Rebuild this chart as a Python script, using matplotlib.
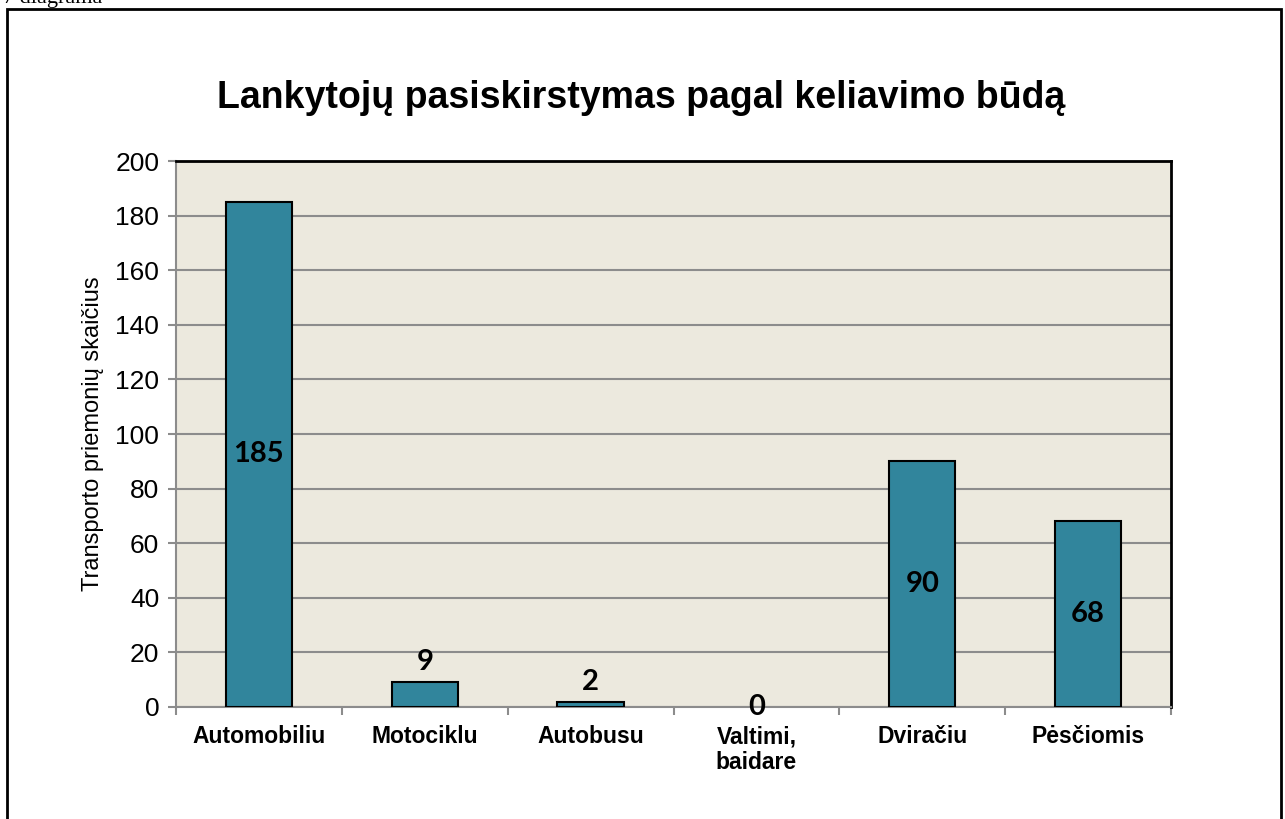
import matplotlib.pyplot as plt
from matplotlib.patches import Rectangle

# Data
categories = ['Automobiliu', 'Motociklu', 'Autobusu', 'Valtimi,\nbaidare', 'Dviračiu', 'Pėsčiomis']
values = [185, 9, 2, 0, 90, 68]
yticks = [0, 20, 40, 60, 80, 100, 120, 140, 160, 180, 200]

bar_color = '#31859C'
bg_color = '#ECE9DE'
grid_color = '#8C8C8C'

plt.rcParams['font.family'] = ['Liberation Sans', 'DejaVu Sans']

fig = plt.figure(figsize=(12.85, 8.19), dpi=100)
ax = fig.add_axes([176/1285, 1-707/819, 995/1285, 546/819])
ax.set_facecolor(bg_color)

x = list(range(len(categories)))
edge_w = [1.5 if v > 0 else 0 for v in values]
ax.bar(x, values, width=0.4, color=bar_color, edgecolor='black', linewidth=edge_w, zorder=3)

ax.set_xlim(-0.5, len(categories) - 0.5)
ax.set_ylim(0, 200)
ax.set_yticks(yticks)
ax.set_yticklabels([str(t) for t in yticks], fontsize=19)
ax.yaxis.grid(True, color=grid_color, linewidth=1.5, zorder=0)
ax.set_axisbelow(True)

# x ticks at category boundaries, labels at centres
ax.set_xticks([i - 0.5 for i in range(len(categories) + 1)])
ax.set_xticklabels([])
ax.set_xticks(x, minor=True)
ax.set_xticklabels(categories, minor=True, fontsize=16.5, fontweight='bold', linespacing=1.15)
ax.tick_params(axis='x', which='minor', length=0, pad=13)
ax.tick_params(axis='x', which='major', length=6, width=1.5, color=grid_color, direction='out')
ax.tick_params(axis='y', length=6, width=1.5, color=grid_color, direction='out', pad=6)

ax.spines['left'].set_color(grid_color)
ax.spines['bottom'].set_color(grid_color)
ax.spines['left'].set_linewidth(1.5)
ax.spines['bottom'].set_linewidth(1.5)
ax.spines['top'].set_color('black')
ax.spines['right'].set_color('black')
ax.spines['top'].set_linewidth(2)
ax.spines['right'].set_linewidth(2)

# value labels
lbl_font = dict(fontsize=21, fontweight='bold', family=['Lato', 'DejaVu Sans'], zorder=4)
for xi, v in zip(x, values):
    if v > 20:
        ax.text(xi, v / 2, str(v), ha='center', va='center', **lbl_font)
    elif v > 0:
        ax.annotate(str(v), (xi, v), xytext=(0, 5), textcoords='offset points',
                    ha='center', va='bottom', **lbl_font)
    else:
        ax.text(xi, 0, str(v), ha='center', va='center', **lbl_font)

ax.set_ylabel('Transporto priemonių skaičius', fontsize=17, labelpad=8)

fig.text(0.5 * (220 + 1062) / 1285, 1 - 98/819, 'Lankytojų pasiskirstymas pagal keliavimo būdą',
         ha='center', va='center', fontsize=27, fontweight='bold')

# outer frame and caption
fig.patches.append(Rectangle((7/1285, -0.05), 1274/1285, 1.05 - 9/819, transform=fig.transFigure,
                             fill=False, edgecolor='black', linewidth=2))
fig.text(3/1285, 1 - 3/819, '7 diagrama', ha='left', va='baseline', fontsize=16,
         family=['Liberation Serif'])

plt.savefig('out.png', dpi=100)
plt.close()
